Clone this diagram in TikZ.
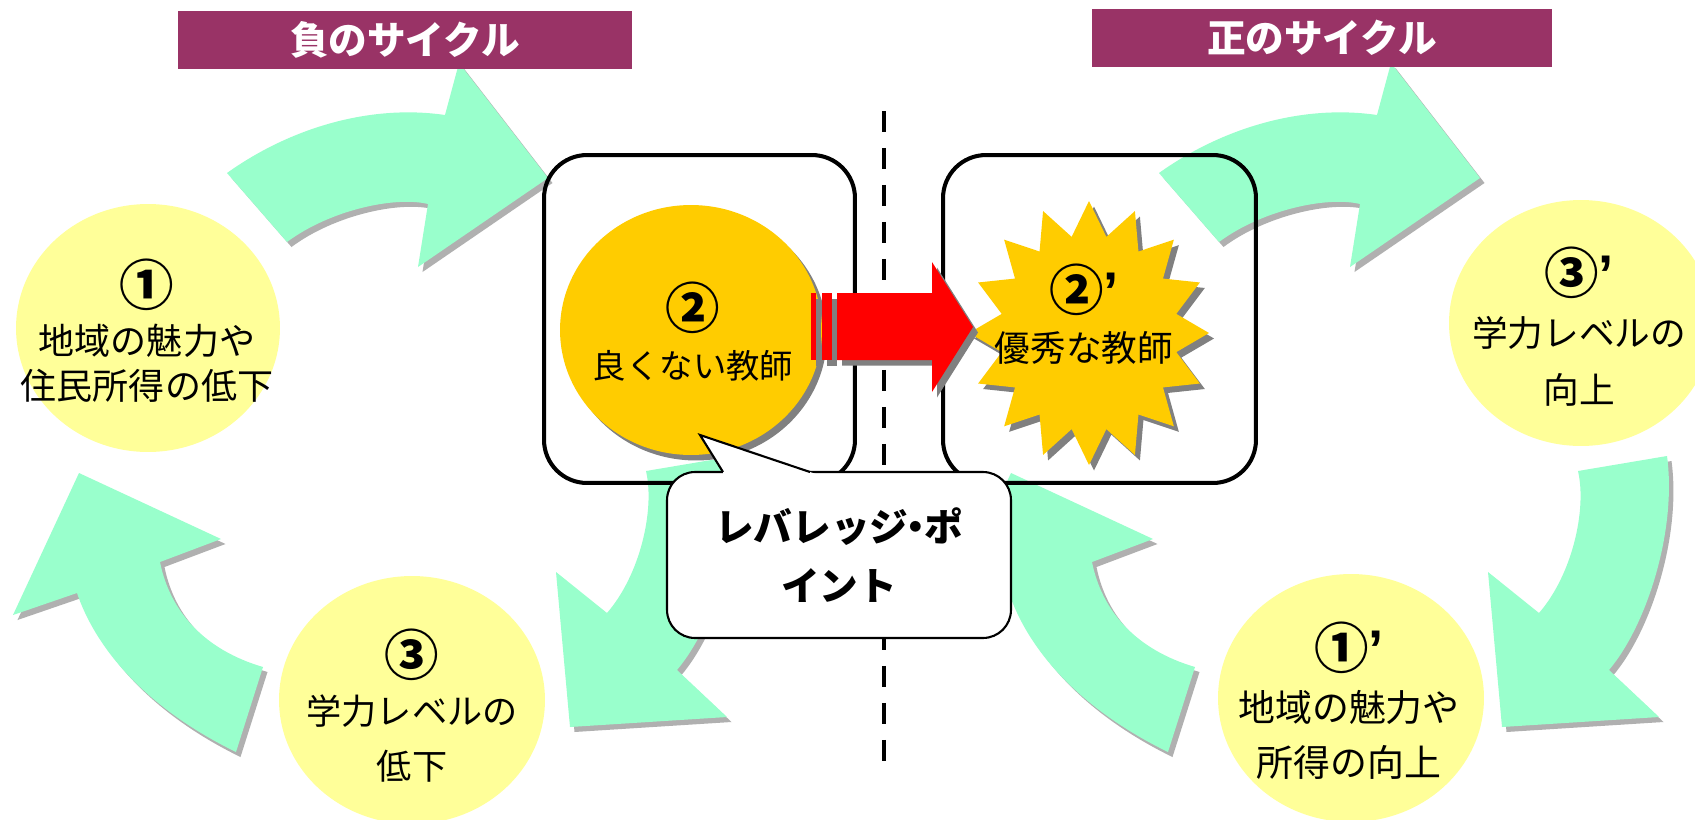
\documentclass[tikz,border=0pt]{standalone}
\usepackage{fontspec}
\setmainfont{Noto Sans CJK JP}
\newfontfamily\latinfont{Liberation Sans}
\usetikzlibrary{shapes.geometric,shadows}

\definecolor{bannercol}{RGB}{153,51,102}
\definecolor{mint}{RGB}{153,255,204}
\definecolor{paleyellow}{RGB}{255,255,153}
\definecolor{gold}{RGB}{255,204,0}
\definecolor{hatchgray}{RGB}{176,176,176}
\definecolor{shadegray}{RGB}{128,128,128}

\newcommand\cnum[1]{{\fontsize{31pt}{31pt}\selectfont\bfseries #1}}
\newcommand\prm{{\latinfont\bfseries ’}}

\tikzset{
  banner/.style={fill=bannercol, text=white, inner sep=0pt, minimum height=1.18cm,
    font=\fontsize{22pt}{26pt}\selectfont\bfseries},
  cycdisk/.style={ellipse, fill=paleyellow, inner sep=0pt},
  cyctext/.style={align=center, inner sep=0pt},
  teachbox/.style={draw, line width=2.3pt, rounded corners=0.86cm,
    minimum width=6.22cm, minimum height=6.56cm},
  greenarrow/.style={fill=mint,
    general shadow={fill=hatchgray, shadow xshift=0.09cm, shadow yshift=-0.1cm}},
  grayshade/.style={general shadow={fill=shadegray, shadow xshift=0.1cm, shadow yshift=-0.11cm}},
}

\begin{document}
\begin{tikzpicture}[x=0.02cm, y=-0.02cm]
\clip (0,0) rectangle (1695,819);
\fill[white] (0,0) rectangle (1695,819);

% divider between the two cycles
\coordinate (divtop) at (884,111);
\coordinate (divbot) at (884,768);
\draw[line width=2.8pt, dash pattern=on 0.42cm off 0.32cm] (divtop) -- (divbot);

% curved arrows of both cycles
\foreach \dx in {0,932} {
\begin{scope}[shift={(\dx,0)}]
\fill[greenarrow] (227,173) .. controls (290,128) and (370,104) .. (445,115) -- (459,63)
  -- (548,178) -- (418,267) -- (428,204) .. controls (395,196) and (330,210) .. (287,242) -- cycle;
\fill[greenarrow] (646,471) -- (735,456) .. controls (745,530) and (715,625) .. (677,670)
  -- (727,717) -- (570,727) -- (556,572) -- (607,613) .. controls (640,575) and (655,510) .. (646,471) -- cycle;
\fill[greenarrow] (263,667) -- (236,752) .. controls (160,715) and (100,660) .. (77,593)
  -- (13,615) -- (79,473) -- (221,539) -- (160,562) .. controls (170,612) and (205,650) .. (263,667) -- cycle;
\end{scope}
}

% stages
\node[cycdisk, minimum width=5.28cm, minimum height=4.96cm] (r1) at (148,328) {};
\node[cycdisk, minimum width=5.32cm, minimum height=4.96cm] (r3) at (412,700) {};
\node[cycdisk, minimum width=5.28cm, minimum height=4.92cm] (r3b) at (1581,323) {};
\node[cycdisk, minimum width=5.32cm, minimum height=4.96cm] (r1b) at (1351,698) {};

\node[cyctext, font=\fontsize{20.5pt}{25.6pt}\selectfont] (r1t) at (147,331)
  {\cnum{①}\\[2.3pt]地域の魅力や\\住民所得の低下};
\node[cyctext, font=\fontsize{20pt}{31.3pt}\selectfont] (r3t) at (412,706)
  {\cnum{③}\\[-3.4pt]学力レベルの\\低下};
\node[cyctext, font=\fontsize{20.3pt}{32.4pt}\selectfont] (r3bt) at (1579,327)
  {\cnum{③\prm}\\[-2.3pt]学力レベルの\\向上};
\node[cyctext, font=\fontsize{21pt}{31.3pt}\selectfont] (r1bt) at (1349,701)
  {\cnum{①\prm}\\[-1.2pt]地域の魅力や\\所得の向上};

% teachers
\node[teachbox] (badbox) at (699.5,319) {};
\node[teachbox, minimum width=6.26cm] (goodbox) at (1099.5,319) {};

\node[ellipse, fill=gold, grayshade, inner sep=0pt, minimum width=5.24cm, minimum height=5cm] (bad) at (691,330) {};
\node[cyctext, font=\fontsize{19pt}{30.7pt}\selectfont] (badt) at (693,332) {\cnum{②}\\[-2.3pt]良くない教師};

\fill[gold, grayshade] (1089,201)
  \foreach \k [evaluate=\k as \sr using {120-31*mod(\k,2)}, evaluate=\k as \sv using {132-34*mod(\k,2)}] in {1,...,31}
  { -- ({1089+\sr*cos(90+11.25*\k)},{333-\sv*sin(90+11.25*\k)}) } -- cycle;
\node[cyctext, font=\fontsize{20.3pt}{31.3pt}\selectfont] (goodt) at (1084,314) {\cnum{②\prm}\\[-2.3pt]優秀な教師};

% change of teacher
\fill[red, grayshade] (811,293) rectangle (816,360);
\fill[red, grayshade] (822,293) rectangle (832,360);
\fill[red, grayshade] (837,293) -- (932,293) -- (932,262) -- (973,327) -- (932,392) -- (932,360) -- (837,360) -- cycle;

% leverage point callout
\node[draw, fill=white, line width=1.2pt, rounded corners=0.56cm, minimum width=6.88cm, minimum height=3.32cm,
  align=center, font=\fontsize{22pt}{33.6pt}\selectfont\bfseries] (lever) at (839,555)
  {レバレッジ\kern-.3em・\kern-.3emポ\\イント};
\coordinate (levertip) at (700,435);
\fill[white] (723,476) -- (723,472) -- (levertip) -- (810,472) -- (822,476) -- cycle;
\draw[line width=1.2pt] (723,472) -- (levertip) -- (810,472);

% titles
\node[banner, minimum width=9.08cm] (negbanner) at (405,40) {負のサイクル};
\node[banner, minimum width=9.2cm] (posbanner) at (1322,38) {正のサイクル};
\end{tikzpicture}
\end{document}
